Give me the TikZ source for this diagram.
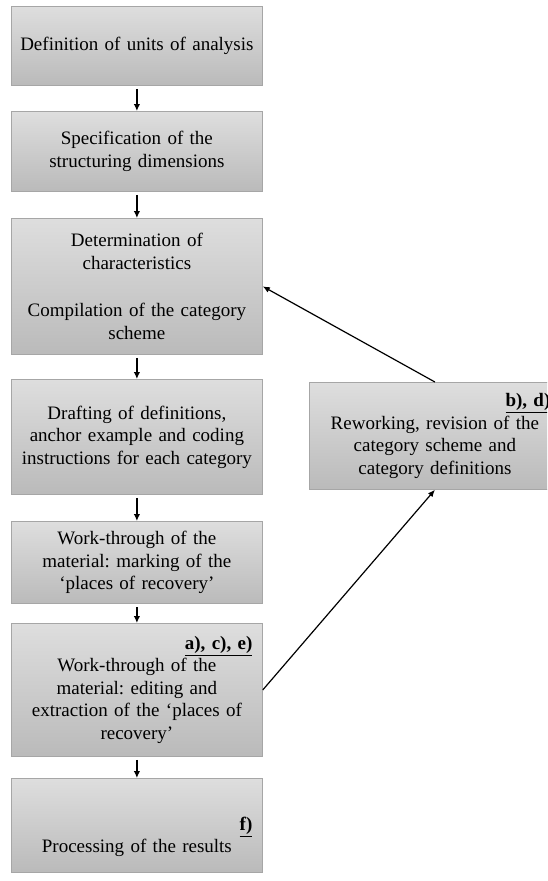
\documentclass[tikz,border=0pt]{standalone}
\usepackage{fontspec}
\setmainfont{Liberation Serif}
\usetikzlibrary{arrows.meta,calc}
\begin{document}
\begin{tikzpicture}[x=1pt,y=1pt,
  stepbox/.style={draw=black!35, line width=0.8pt, top color=black!13, bottom color=black!27,
    minimum width=251pt, text width=241pt, inner xsep=5pt, inner ysep=10pt, align=center,
    font=\frenchspacing\fontsize{19}{22.5}\selectfont, anchor=north west},
  flow/.style={-{Latex[length=7pt,width=6.5pt]}, line width=1.3pt, shorten <=3pt},
  loop/.style={-{Latex[length=7pt,width=6pt]}, line width=1.2pt}
]
\useasboundingbox (0,0) rectangle (547,-881);
\clip (0,0) rectangle (547,-881);
\fill[white] (0,0) rectangle (547,-881);
\newcommand{\lbl}[1]{\makebox[241pt][r]{\underline{\textbf{#1}}\hspace*{5pt}}}

\node[stepbox, minimum height=79pt]  (b1) at (11,-6)   {Definition of units of analysis};
\node[stepbox, minimum height=80pt]  (b2) at (11,-111) {Specification of the\\structuring dimensions};
\node[stepbox, minimum height=136pt] (b3) at (11,-218) {Determination of\\characteristics\\[25pt]Compilation of the category\\scheme};
\node[stepbox, minimum height=115pt] (b4) at (11,-379) {Drafting of definitions,\\anchor example and coding\\instructions for each category};
\node[stepbox, minimum height=80pt]  (b5) at (11,-521) {Work-through of the\\material: marking of the\\‘places of recovery’};
\node[stepbox, minimum height=133pt] (b6) at (11,-623) {\lbl{a), c), e)}\\Work-through of the\\material: editing and\\extraction of the ‘places of\\recovery’};
\node[stepbox, minimum height=94pt]  (b7) at (11,-778) {\mbox{}\\[14pt]\lbl{f)}\\Processing of the results};
\node[stepbox, minimum height=107pt] (br) at (309,-382) {\lbl{b), d)}\\Reworking, revision of the\\category scheme and\\category definitions};

\draw[flow] (b1.south) -- (b2.north);
\draw[flow] (b2.south) -- (b3.north);
\draw[flow] (b3.south) -- (b4.north);
\draw[flow] (b4.south) -- (b5.north);
\draw[flow] (b5.south) -- (b6.north);
\draw[flow] (b6.south) -- (b7.north);
\draw[loop] (br.north) -- (b3.east);
\draw[loop] (b6.east) -- (br.south);
\end{tikzpicture}
\end{document}
